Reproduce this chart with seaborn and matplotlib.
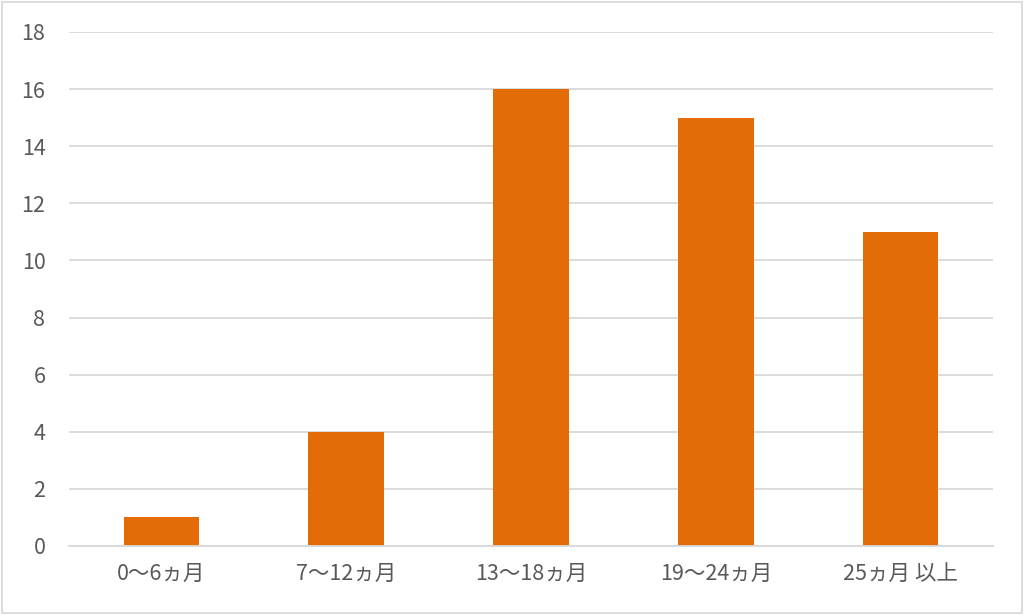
import matplotlib
matplotlib.use("Agg")
import matplotlib.pyplot as plt
import seaborn as sns
import pandas as pd

categories = ["0〜6ヵ月", "7〜12ヵ月", "13〜18ヵ月", "19〜24ヵ月", "25ヵ月 以上"]
values = [1, 4, 16, 15, 11]
yticks = list(range(0, 19, 2))

sns.set_theme(style="white")
plt.rcParams['font.family'] = ['Noto Sans CJK JP', 'DejaVu Sans']

df = pd.DataFrame({"period": categories, "count": values})

fig = plt.figure(figsize=(10.24, 6.15), dpi=100)
ax = fig.add_axes([69/1024, 69/615, 924/1024, 514/615])
ax.set_axisbelow(True)
ax.yaxis.grid(True, color="#D9D9D9", linewidth=1.3)
sns.barplot(data=df, x="period", y="count", color="#E36C09", width=0.41,
            saturation=1, linewidth=0, ax=ax)
ax.set_ylim(0, 18)
ax.set_yticks(yticks)
ax.set_xlim(-0.5, len(categories) - 0.5)
ax.set_xlabel(""); ax.set_ylabel("")
for s in ["top", "right", "left"]:
    ax.spines[s].set_visible(False)
ax.spines["bottom"].set_color("#D9D9D9"); ax.spines["bottom"].set_linewidth(1.3)
ax.tick_params(axis="both", length=0, labelsize=15.5, labelcolor="#595959")
ax.tick_params(axis="y", pad=17)
ax.tick_params(axis="x", pad=12)

# outer chart border
fig.patches.append(plt.Rectangle((0.002, 0.003), 0.996, 0.994, transform=fig.transFigure,
                                 fill=False, edgecolor="#D9D9D9", linewidth=1.3))
fig.savefig("out.png", dpi=100)
